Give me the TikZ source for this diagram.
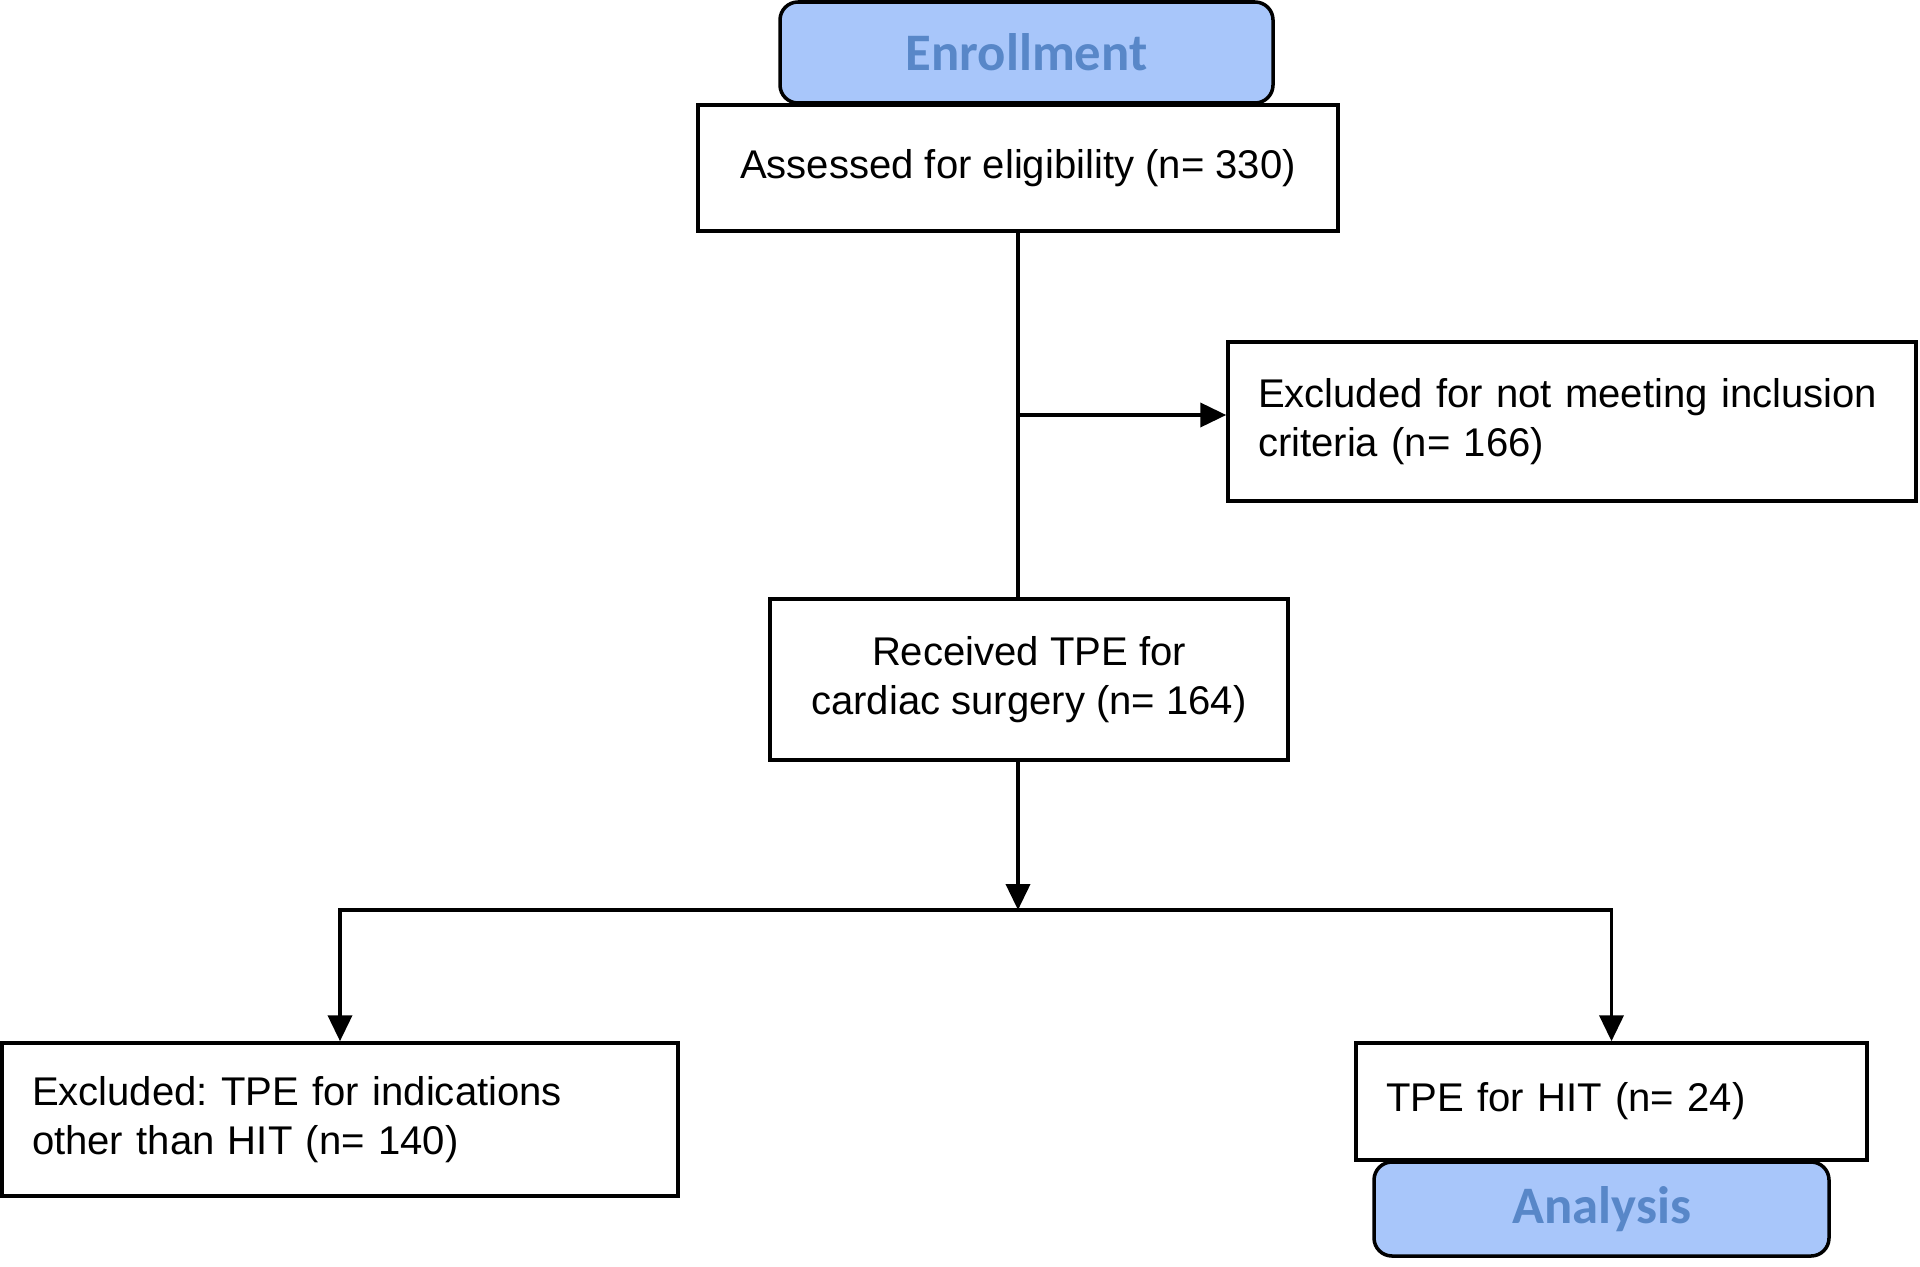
\documentclass[tikz,border=0pt]{standalone}
\usepackage{fontspec}
\setmainfont{Liberation Sans}
\newfontfamily\stagefont{Carlito}
\usetikzlibrary{arrows.meta}
\definecolor{stagefill}{RGB}{168,198,250}
\definecolor{stagetext}{RGB}{88,135,200}
\frenchspacing

\begin{document}
\begin{tikzpicture}[box/.style={rectangle, draw=black, line width=1pt, fill=white, inner xsep=0.3cm, font=\fontsize{11.4}{14}\selectfont},
	stage/.style={rectangle, rounded corners=0.18cm, draw=black, line width=1pt, fill=stagefill, text=stagetext, font=\stagefont\bfseries\fontsize{15}{18}\selectfont},
	>={Triangle[length=0.26cm, width=0.24cm]}, line width=1.1pt]
	\useasboundingbox (0, 0) rectangle (19.2, 12.66);

	\node[stage, minimum width=4.93cm, minimum height=1.01cm] (enrollment) at (10.265, 12.135) {Enrollment};
	\node[box, align=center, minimum width=6.4cm, minimum height=1.26cm] (assessed) at (10.18, 10.98) {Assessed for eligibility (n= 330)};
	\node[box, align=left, text width=6.28cm, minimum height=1.59cm] (excluded-criteria) at (15.72, 8.445) {Excluded for not meeting inclusion\\criteria (n= 166)};
	\node[box, align=center, minimum width=5.18cm, minimum height=1.61cm] (received) at (10.29, 5.865) {Received TPE for\\cardiac surgery (n= 164)};
	\node[box, align=left, text width=6.16cm, minimum height=1.53cm] (excluded-other) at (3.40, 1.465) {Excluded: TPE for indications\\other than HIT (n= 140)};
	\node[box, align=left, text width=4.51cm, minimum height=1.17cm] (tpe-hit) at (16.115, 1.645) {TPE for HIT (n= 24)};
	\node[stage, minimum width=4.55cm, minimum height=0.94cm] (analysis) at (16.015, 0.57) {Analysis};

	\coordinate (received-top) at (assessed.south |- received.north);
	\coordinate (received-bottom) at (assessed.south |- received.south);
	\coordinate (split-top) at (assessed.south |- 0, 8.51);
	\coordinate (split-bottom) at (assessed.south |- 0, 3.56);

	\draw (assessed.south) -- (received-top);
	\draw[->] (split-top) -- (split-top -| excluded-criteria.west);
	\draw[->] (received-bottom) -- (split-bottom);
	\draw[->] (split-bottom) -| (excluded-other.north);
	\draw[->] (split-bottom) -| (tpe-hit.north);
\end{tikzpicture}
\end{document}
